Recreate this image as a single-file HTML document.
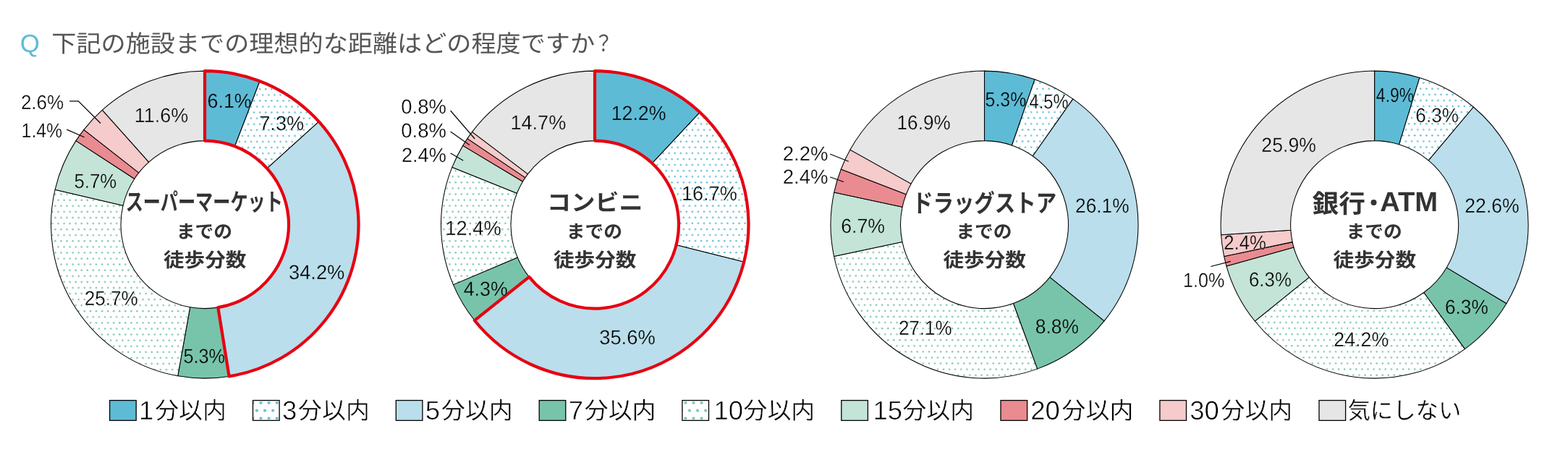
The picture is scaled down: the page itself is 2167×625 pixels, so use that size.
<!DOCTYPE html>
<html lang="ja">
<head>
<meta charset="utf-8">
<title>下記の施設までの理想的な距離はどの程度ですか？</title>
<style>
html,body{margin:0;padding:0;background:#fff}
body{width:2167px;height:625px;overflow:hidden;font-family:"Liberation Sans","Noto Sans CJK JP",sans-serif}
svg{display:block}
text{font-family:"Liberation Sans","Noto Sans CJK JP",sans-serif;text-rendering:geometricPrecision}
.pct text{font-size:28px;fill:#000}
.ln{font-size:36.5px;fill:#000;stroke:#fff;stroke-width:.6px}
.ct{font-weight:bold;fill:#333333}
.lg{font-size:32.5px;fill:#000;stroke:#fff;stroke-width:.4px}
</style>
</head>
<body>
<svg width="2167" height="625" viewBox="0 0 2167 625" role="img" aria-label="下記の施設までの理想的な距離はどの程度ですか？">
<defs>
<pattern id="pb0" patternUnits="userSpaceOnUse" x="74.38" y="280.76" width="8.08" height="16.16"><rect width="8.08" height="16.16" fill="#fff"/><circle cx="2.02" cy="4.04" r="1.25" fill="#5ebbd6"/><circle cx="6.06" cy="12.12" r="1.25" fill="#5ebbd6"/></pattern><pattern id="pg0" patternUnits="userSpaceOnUse" x="74.38" y="280.76" width="8.08" height="16.16"><rect width="8.08" height="16.16" fill="#fff"/><circle cx="2.02" cy="4.04" r="1.25" fill="#78c4ab"/><circle cx="6.06" cy="12.12" r="1.25" fill="#78c4ab"/></pattern><pattern id="pb1" patternUnits="userSpaceOnUse" x="611.48" y="280.56" width="8.08" height="16.16"><rect width="8.08" height="16.16" fill="#fff"/><circle cx="2.02" cy="4.04" r="1.25" fill="#5ebbd6"/><circle cx="6.06" cy="12.12" r="1.25" fill="#5ebbd6"/></pattern><pattern id="pg1" patternUnits="userSpaceOnUse" x="611.48" y="280.56" width="8.08" height="16.16"><rect width="8.08" height="16.16" fill="#fff"/><circle cx="2.02" cy="4.04" r="1.25" fill="#78c4ab"/><circle cx="6.06" cy="12.12" r="1.25" fill="#78c4ab"/></pattern><pattern id="pb2" patternUnits="userSpaceOnUse" x="1176.78" y="401.56" width="8.08" height="16.16"><rect width="8.08" height="16.16" fill="#fff"/><circle cx="2.02" cy="4.04" r="1.25" fill="#5ebbd6"/><circle cx="6.06" cy="12.12" r="1.25" fill="#5ebbd6"/></pattern><pattern id="pg2" patternUnits="userSpaceOnUse" x="1176.78" y="401.56" width="8.08" height="16.16"><rect width="8.08" height="16.16" fill="#fff"/><circle cx="2.02" cy="4.04" r="1.25" fill="#78c4ab"/><circle cx="6.06" cy="12.12" r="1.25" fill="#78c4ab"/></pattern><pattern id="pb3" patternUnits="userSpaceOnUse" x="1783.48" y="441.86" width="8.08" height="16.16"><rect width="8.08" height="16.16" fill="#fff"/><circle cx="2.02" cy="4.04" r="1.25" fill="#5ebbd6"/><circle cx="6.06" cy="12.12" r="1.25" fill="#5ebbd6"/></pattern><pattern id="pg3" patternUnits="userSpaceOnUse" x="1783.48" y="441.86" width="8.08" height="16.16"><rect width="8.08" height="16.16" fill="#fff"/><circle cx="2.02" cy="4.04" r="1.25" fill="#78c4ab"/><circle cx="6.06" cy="12.12" r="1.25" fill="#78c4ab"/></pattern><pattern id="lb" patternUnits="userSpaceOnUse" x="354.95" y="551.65" width="11.1" height="21.4"><rect width="11.1" height="21.4" fill="#fff"/><circle cx="5.55" cy="5.35" r="2" fill="#5ebbd6"/><circle cx="0" cy="16.05" r="2" fill="#5ebbd6"/><circle cx="11.1" cy="16.05" r="2" fill="#5ebbd6"/></pattern><pattern id="lg" patternUnits="userSpaceOnUse" x="941.85" y="551.65" width="11.1" height="21.4"><rect width="11.1" height="21.4" fill="#fff"/><circle cx="5.55" cy="5.35" r="2" fill="#78c4ab"/><circle cx="0" cy="16.05" r="2" fill="#78c4ab"/><circle cx="11.1" cy="16.05" r="2" fill="#78c4ab"/></pattern>
</defs>
<rect width="2167" height="625" fill="#fff"/>
<g opacity="0.999">
<g stroke="#000" stroke-width="1.05" stroke-linejoin="round"><path d="M283 98.1A212.5 212.5 0 0 1 359.08 112.19L324.53 202.29A116 116 0 0 0 283 194.6Z" fill="#5ebbd6"/><path d="M359.08 112.19A212.5 212.5 0 0 1 440.74 168.22L369.11 232.88A116 116 0 0 0 324.53 202.29Z" fill="url(#pb0)"/><path d="M440.74 168.22A212.5 212.5 0 0 1 316.61 520.43L301.35 425.14A116 116 0 0 0 369.11 232.88Z" fill="#badeeb"/><path d="M316.61 520.43A212.5 212.5 0 0 1 245.73 519.81L262.66 424.8A116 116 0 0 0 301.35 425.14Z" fill="#78c4ab"/><path d="M245.73 519.81A212.5 212.5 0 0 1 76.06 262.29L170.04 284.23A116 116 0 0 0 262.66 424.8Z" fill="url(#pg0)"/><path d="M76.06 262.29A212.5 212.5 0 0 1 104.94 194.62L185.8 247.29A116 116 0 0 0 170.04 284.23Z" fill="#c3e4d7"/><path d="M104.94 194.62A212.5 212.5 0 0 1 115.89 179.33L191.78 238.94A116 116 0 0 0 185.8 247.29Z" fill="#e98b91"/><path d="M115.89 179.33A212.5 212.5 0 0 1 141.36 152.19L205.68 224.12A116 116 0 0 0 191.78 238.94Z" fill="#f5cbcb"/><path d="M141.36 152.19A212.5 212.5 0 0 1 283 98.1L283 194.6A116 116 0 0 0 205.68 224.12Z" fill="#e6e6e6"/></g>
<g stroke="#000" stroke-width="1.05" stroke-linejoin="round"><path d="M822 98.1A212.5 212.5 0 0 1 967.2 155.44L901.26 225.9A116 116 0 0 0 822 194.6Z" fill="#5ebbd6"/><path d="M967.2 155.44A212.5 212.5 0 0 1 1028.14 362.19L934.53 338.76A116 116 0 0 0 901.26 225.9Z" fill="url(#pb1)"/><path d="M1028.14 362.19A212.5 212.5 0 0 1 655.81 443.03L731.28 382.89A116 116 0 0 0 934.53 338.76Z" fill="#badeeb"/><path d="M655.81 443.03A212.5 212.5 0 0 1 626.39 393.63L715.22 355.92A116 116 0 0 0 731.28 382.89Z" fill="#78c4ab"/><path d="M626.39 393.63A212.5 212.5 0 0 1 624.9 231.17L714.41 267.24A116 116 0 0 0 715.22 355.92Z" fill="url(#pg1)"/><path d="M624.9 231.17A212.5 212.5 0 0 1 639.72 201.38L722.5 250.98A116 116 0 0 0 714.41 267.24Z" fill="#c3e4d7"/><path d="M639.72 201.38A212.5 212.5 0 0 1 645.93 191.62L725.89 245.65A116 116 0 0 0 722.5 250.98Z" fill="#e98b91"/><path d="M645.93 191.62A212.5 212.5 0 0 1 652.51 182.42L729.48 240.63A116 116 0 0 0 725.89 245.65Z" fill="#f5cbcb"/><path d="M652.51 182.42A212.5 212.5 0 0 1 822 98.1L822 194.6A116 116 0 0 0 729.48 240.63Z" fill="#e6e6e6"/></g>
<g stroke="#000" stroke-width="1.05" stroke-linejoin="round"><path d="M1360.5 98.1A212.5 212.5 0 0 1 1430.03 109.8L1398.46 200.99A116 116 0 0 0 1360.5 194.6Z" fill="#5ebbd6"/><path d="M1430.03 109.8A212.5 212.5 0 0 1 1482.9 136.89L1427.32 215.78A116 116 0 0 0 1398.46 200.99Z" fill="url(#pb2)"/><path d="M1482.9 136.89A212.5 212.5 0 0 1 1525.99 443.9L1450.84 383.36A116 116 0 0 0 1427.32 215.78Z" fill="#badeeb"/><path d="M1525.99 443.9A212.5 212.5 0 0 1 1433.6 510.13L1400.4 419.52A116 116 0 0 0 1450.84 383.36Z" fill="#78c4ab"/><path d="M1433.6 510.13A212.5 212.5 0 0 1 1152.58 354.49L1247 334.56A116 116 0 0 0 1400.4 419.52Z" fill="url(#pg2)"/><path d="M1152.58 354.49A212.5 212.5 0 0 1 1152.72 266.06L1247.08 286.28A116 116 0 0 0 1247 334.56Z" fill="#c3e4d7"/><path d="M1152.72 266.06A212.5 212.5 0 0 1 1162.3 233.96L1252.31 268.76A116 116 0 0 0 1247.08 286.28Z" fill="#e98b91"/><path d="M1162.3 233.96A212.5 212.5 0 0 1 1174.91 207.09L1259.19 254.1A116 116 0 0 0 1252.31 268.76Z" fill="#f5cbcb"/><path d="M1174.91 207.09A212.5 212.5 0 0 1 1360.5 98.1L1360.5 194.6A116 116 0 0 0 1259.19 254.1Z" fill="#e6e6e6"/></g>
<g stroke="#000" stroke-width="1.05" stroke-linejoin="round"><path d="M1899.6 98.1A212.5 212.5 0 0 1 1961.91 107.44L1933.61 199.7A116 116 0 0 0 1899.6 194.6Z" fill="#5ebbd6"/><path d="M1961.91 107.44A212.5 212.5 0 0 1 2036.42 148.01L1974.29 221.84A116 116 0 0 0 1933.61 199.7Z" fill="url(#pb3)"/><path d="M2036.42 148.01A212.5 212.5 0 0 1 2081.94 419.73L1999.14 370.17A116 116 0 0 0 1974.29 221.84Z" fill="#badeeb"/><path d="M2081.94 419.73A212.5 212.5 0 0 1 2024.41 482.58L1967.73 404.48A116 116 0 0 0 1999.14 370.17Z" fill="#78c4ab"/><path d="M2024.41 482.58A212.5 212.5 0 0 1 1734.22 444.04L1809.32 383.44A116 116 0 0 0 1967.73 404.48Z" fill="url(#pg3)"/><path d="M1734.22 444.04A212.5 212.5 0 0 1 1695.03 368.1L1787.93 341.99A116 116 0 0 0 1809.32 383.44Z" fill="#c3e4d7"/><path d="M1695.03 368.1A212.5 212.5 0 0 1 1691.71 354.6L1786.11 334.62A116 116 0 0 0 1787.93 341.99Z" fill="#e98b91"/><path d="M1691.71 354.6A212.5 212.5 0 0 1 1687.57 324.68L1783.86 318.29A116 116 0 0 0 1786.11 334.62Z" fill="#f5cbcb"/><path d="M1687.57 324.68A212.5 212.5 0 0 1 1899.6 98.1L1899.6 194.6A116 116 0 0 0 1783.86 318.29Z" fill="#e6e6e6"/></g>
<path d="M283 98.1A212.5 212.5 0 0 1 316.61 520.43L301.35 425.14A116 116 0 0 0 283 194.6Z" fill="none" stroke="#e60012" stroke-width="4.2" stroke-linejoin="round"/>
<path d="M822 98.1A212.5 212.5 0 1 1 655.81 443.03L731.28 382.89A116 116 0 1 0 822 194.6Z" fill="none" stroke="#e60012" stroke-width="4.2" stroke-linejoin="round"/>
<path d="M96.1 139.8H108.3L139 170.5M92.3 179.1L116.6 189.7M622.6 153L656.2 192M622.6 181.9L648.9 200.4M622.6 211.8L640.2 222M1147.2 213L1172.8 223.2M1147.2 244.7L1166 251.5M1673.3 368.5L1700.8 361.3" fill="none" stroke="#000" stroke-width="1.2"/>
<g class="pct" stroke-width="0.32"><text transform="translate(286.54 148.6) scale(0.959 1)" stroke="#5ebbd6">6.1%</text><text transform="translate(358.21 179.8) scale(0.971 1)" stroke="#fff">7.3%</text><text transform="translate(398.96 385.6) scale(0.975 1)" stroke="#badeeb">34.2%</text><text transform="translate(253.49 502.3) scale(0.901 1)" stroke="#78c4ab">5.3%</text><text transform="translate(116.69 421.5) scale(0.931 1)" stroke="#fff">25.7%</text><text transform="translate(102.47 259.7) scale(0.919 1)" stroke="#c3e4d7">5.7%</text><text transform="translate(29.61 190.4) scale(0.885 1)" stroke="#fff">1.4%</text><text transform="translate(28.89 151.3) scale(0.928 1)" stroke="#fff">2.6%</text><text transform="translate(185.75 169) scale(0.962 1)" stroke="#e6e6e6">11.6%</text><text transform="translate(844.66 166) scale(0.956 1)" stroke="#5ebbd6">12.2%</text><text transform="translate(941.94 276.9) scale(0.968 1)" stroke="#fff">16.7%</text><text transform="translate(828.16 476) scale(0.978 1)" stroke="#badeeb">35.6%</text><text transform="translate(640.69 409.1) scale(0.957 1)" stroke="#78c4ab">4.3%</text><text transform="translate(615.32 325.1) scale(0.976 1)" stroke="#fff">12.4%</text><text transform="translate(554.93 223.7) scale(0.970 1)" stroke="#fff">2.4%</text><text transform="translate(554.33 190.1) scale(0.980 1)" stroke="#fff">0.8%</text><text transform="translate(554.33 157.1) scale(0.980 1)" stroke="#fff">0.8%</text><text transform="translate(705.44 179) scale(0.968 1)" stroke="#e6e6e6">14.7%</text><text transform="translate(1361.6 146.6) scale(0.888 1)" stroke="#5ebbd6">5.3%</text><text transform="translate(1422.45 150.2) scale(0.849 1)" stroke="#fff">4.5%</text><text transform="translate(1486.08 294.4) scale(0.938 1)" stroke="#badeeb">26.1%</text><text transform="translate(1430.85 461.2) scale(0.941 1)" stroke="#78c4ab">8.8%</text><text transform="translate(1241.89 462.8) scale(0.930 1)" stroke="#fff">27.1%</text><text transform="translate(1162.24 321.5) scale(0.954 1)" stroke="#c3e4d7">6.7%</text><text transform="translate(1081.72 254) scale(0.982 1)" stroke="#fff">2.4%</text><text transform="translate(1081.72 221.9) scale(0.982 1)" stroke="#fff">2.2%</text><text transform="translate(1239.61 178.5) scale(0.932 1)" stroke="#e6e6e6">16.9%</text><text transform="translate(1901.87 140.5) scale(0.820 1)" stroke="#5ebbd6">4.9%</text><text transform="translate(1956.37 168.6) scale(0.933 1)" stroke="#fff">6.3%</text><text transform="translate(2024.26 293.6) scale(0.951 1)" stroke="#badeeb">22.6%</text><text transform="translate(1996.97 434) scale(0.938 1)" stroke="#78c4ab">6.3%</text><text transform="translate(1843.35 479.4) scale(0.956 1)" stroke="#fff">24.2%</text><text transform="translate(1725.99 396.2) scale(0.923 1)" stroke="#c3e4d7">6.3%</text><text transform="translate(1634.98 396.9) scale(0.898 1)" stroke="#fff">1.0%</text><text transform="translate(1691.2 344.5) scale(0.920 1)" stroke="#f5cbcb">2.4%</text><text transform="translate(1743.36 210.2) scale(0.951 1)" stroke="#e6e6e6">25.9%</text></g>
<text class="ct" x="173.72" y="291.3" font-size="33" textLength="217.14" lengthAdjust="spacingAndGlyphs">スーパーマーケット</text>
<text class="ct" x="756" y="290.6" font-size="31" textLength="132.65" lengthAdjust="spacingAndGlyphs">コンビニ</text>
<text class="ct" x="1260.99" y="292.6" font-size="34" textLength="199.2" lengthAdjust="spacingAndGlyphs">ドラッグストア</text>
<text class="ct" x="1813.5" y="293.5" font-size="35" textLength="73.4" lengthAdjust="spacingAndGlyphs">銀行</text>
<circle cx="1898.5" cy="280" r="4" fill="#333333"/>
<text x="1907.3" y="292.3" font-weight="bold" font-size="38" fill="#333333" textLength="79.8" lengthAdjust="spacingAndGlyphs">ATM</text>
<text class="ct" x="243.83" y="329.3" font-size="25.2" textLength="77.22" lengthAdjust="spacingAndGlyphs">までの</text><text class="ct" x="226.01" y="368.6" font-size="27" textLength="114.46" lengthAdjust="spacingAndGlyphs">徒歩分数</text>
<text class="ct" x="782.83" y="329.3" font-size="25.2" textLength="77.22" lengthAdjust="spacingAndGlyphs">までの</text><text class="ct" x="765.01" y="368.6" font-size="27" textLength="114.46" lengthAdjust="spacingAndGlyphs">徒歩分数</text>
<text class="ct" x="1321.33" y="329.3" font-size="25.2" textLength="77.22" lengthAdjust="spacingAndGlyphs">までの</text><text class="ct" x="1303.51" y="368.6" font-size="27" textLength="114.46" lengthAdjust="spacingAndGlyphs">徒歩分数</text>
<text class="ct" x="1860.43" y="329.3" font-size="25.2" textLength="77.22" lengthAdjust="spacingAndGlyphs">までの</text><text class="ct" x="1842.61" y="368.6" font-size="27" textLength="114.46" lengthAdjust="spacingAndGlyphs">徒歩分数</text>
<text x="27.65" y="72.3" font-size="34.8" fill="#5ebbd6">Q</text>
<text x="71.3" y="72.1" font-size="33" fill="#555" textLength="750.78" lengthAdjust="spacingAndGlyphs">下記の施設までの理想的な距離はどの程度ですか</text>
<text x="820.92" y="70.5" font-size="31" fill="#555" textLength="26.35" lengthAdjust="spacingAndGlyphs">？</text>
<rect x="151.6" y="553.6" width="36.6" height="27.8" fill="#5ebbd6" stroke="#000" stroke-width="1.3"/><text class="ln" x="192.1" y="580">1</text><text class="lg" x="214.2" y="579.3" textLength="98.7" lengthAdjust="spacingAndGlyphs">分以内</text><rect x="349.5" y="553.6" width="36.6" height="27.8" fill="url(#lb)" stroke="#000" stroke-width="1.3"/><text class="ln" x="390" y="580">3</text><text class="lg" x="412.1" y="579.3" textLength="98.7" lengthAdjust="spacingAndGlyphs">分以内</text><rect x="547.3" y="553.6" width="36.6" height="27.8" fill="#badeeb" stroke="#000" stroke-width="1.3"/><text class="ln" x="587.8" y="580">5</text><text class="lg" x="609.9" y="579.3" textLength="98.7" lengthAdjust="spacingAndGlyphs">分以内</text><rect x="745.2" y="553.6" width="36.6" height="27.8" fill="#78c4ab" stroke="#000" stroke-width="1.3"/><text class="ln" x="785.7" y="580">7</text><text class="lg" x="807.8" y="579.3" textLength="98.7" lengthAdjust="spacingAndGlyphs">分以内</text><rect x="942.9" y="553.6" width="36.6" height="27.8" fill="url(#lg)" stroke="#000" stroke-width="1.3"/><text class="ln" x="986.5" y="580">10</text><text class="lg" x="1027.5" y="579.3" textLength="98.7" lengthAdjust="spacingAndGlyphs">分以内</text><rect x="1162.8" y="553.6" width="36.6" height="27.8" fill="#c3e4d7" stroke="#000" stroke-width="1.3"/><text class="ln" x="1206.4" y="580">15</text><text class="lg" x="1247.4" y="579.3" textLength="98.7" lengthAdjust="spacingAndGlyphs">分以内</text><rect x="1383" y="553.6" width="36.6" height="27.8" fill="#e98b91" stroke="#000" stroke-width="1.3"/><text class="ln" x="1424.3" y="580">20</text><text class="lg" x="1467.6" y="579.3" textLength="98.7" lengthAdjust="spacingAndGlyphs">分以内</text><rect x="1602.9" y="553.6" width="36.6" height="27.8" fill="#f5cbcb" stroke="#000" stroke-width="1.3"/><text class="ln" x="1644.2" y="580">30</text><text class="lg" x="1687.5" y="579.3" textLength="98.7" lengthAdjust="spacingAndGlyphs">分以内</text><rect x="1823" y="553.6" width="36.6" height="27.8" fill="#e6e6e6" stroke="#000" stroke-width="1.3"/><text class="lg" x="1862.5" y="579.3" textLength="156.81" lengthAdjust="spacingAndGlyphs">気にしない</text>
</g>
</svg>
</body>
</html>
